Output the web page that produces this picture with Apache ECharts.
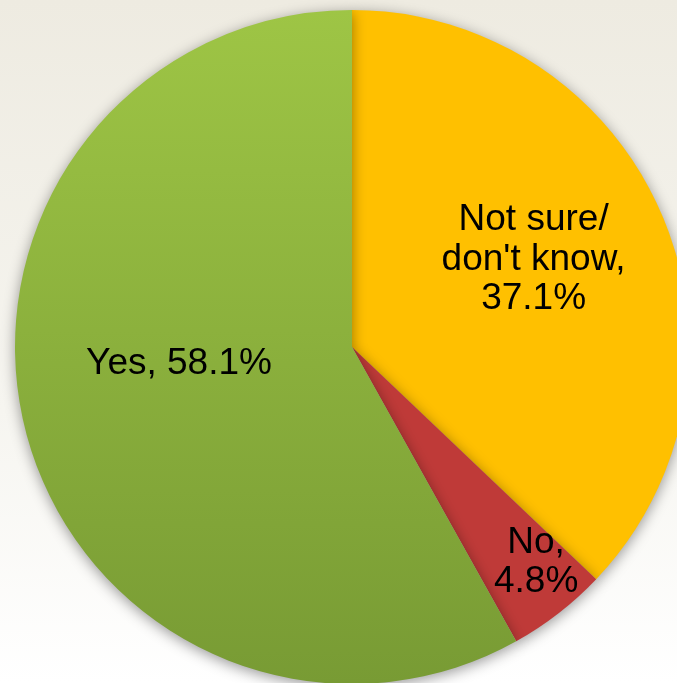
<!DOCTYPE html>
<html>
<head>
<meta charset="utf-8">
<script src="https://cdn.jsdelivr.net/npm/echarts@6/dist/echarts.min.js"></script>
<style>
  html, body { margin: 0; padding: 0; }
  #chart { width: 677px; height: 683px; }
</style>
</head>
<body>
<div id="chart"></div>
<script>
// answer categories, clockwise from 12 o'clock
const categories = ['Not sure/\ndon\'t know', 'No', 'Yes'];
const percents = [37.1, 4.8, 58.1];
const labelTexts = ['Not sure/\ndon\'t know,\n37.1%', 'No,\n4.8%', 'Yes, 58.1%'];

const sliceColors = [
    '#FFC000',
    '#BF3A38',
    new echarts.graphic.LinearGradient(0, 0, 0, 1, [
        { offset: 0, color: '#9EC545' },
        { offset: 1, color: '#789B34' }
    ])
];
// nudge labels to where the original put them
const labelOffsets = [[24, -20], [79, 80], [-7, -26]];

const myChart = echarts.init(document.getElementById('chart'), null, { renderer: 'canvas' });

const option = {
    backgroundColor: new echarts.graphic.LinearGradient(0, 0, 0, 1, [
        { offset: 0, color: '#EEEBE1' },
        { offset: 0.6, color: '#F6F5F0' },
        { offset: 1, color: '#FFFFFF' }
    ]),
    animation: false,
    series: [
        {
            type: 'pie',
            center: [352, 347],
            radius: 337,
            startAngle: 90,
            clockwise: true,
            avoidLabelOverlap: false,
            itemStyle: {
                shadowBlur: 14,
                shadowColor: 'rgba(0,0,0,0.4)',
                shadowOffsetY: 3
            },
            label: {
                show: true,
                position: 'inside',
                color: '#000',
                fontFamily: 'Liberation Sans, Arial, sans-serif',
                fontSize: 37,
                lineHeight: 39.5,
                align: 'center'
            },
            labelLine: { show: false },
            data: categories.map((c, i) => ({
                name: c,
                value: percents[i],
                itemStyle: { color: sliceColors[i] },
                label: { formatter: labelTexts[i], offset: labelOffsets[i] }
            }))
        }
    ]
};

myChart.setOption(option);
</script>
</body>
</html>
